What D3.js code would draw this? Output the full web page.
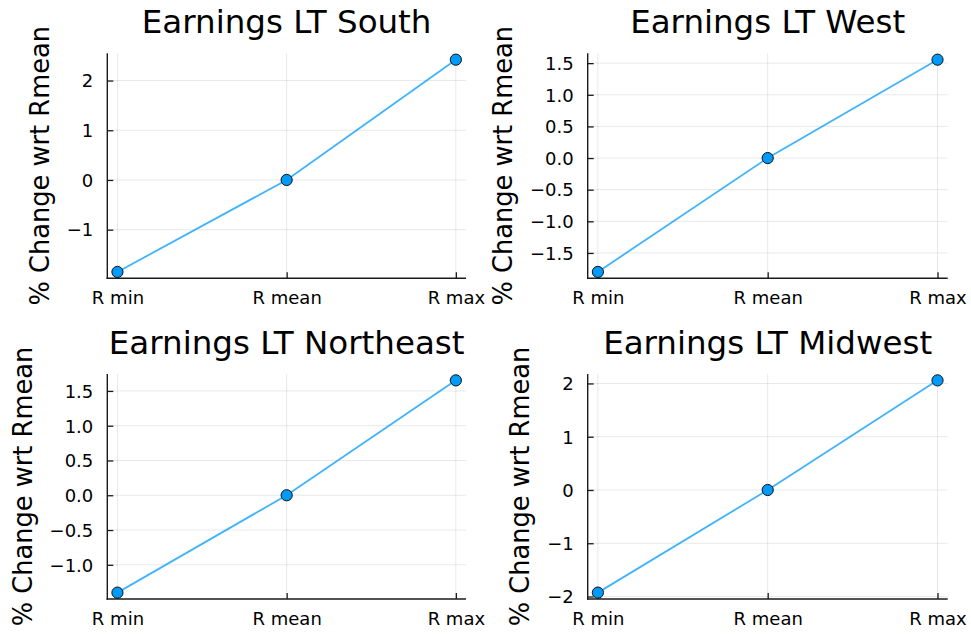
<!DOCTYPE html>
<meta charset="utf-8">
<style>
    body {
        margin: 0;
        background: #fff;
    }
    text {
        font-family: "DejaVu Sans", sans-serif;
        fill: #000;
    }
    .grid line {
        stroke: #000;
        stroke-opacity: 0.09;
        stroke-width: 1;
    }
    .axis-line {
        stroke: #1a1a1a;
        stroke-width: 1.4;
    }
</style>
<body>
<script src="https://d3js.org/d3.v7.min.js"></script>
<script>

    // categories along x
    var categories = ["R min", "R mean", "R max"];

    // panel titles (row by row)
    var titles = ["Earnings LT South", "Earnings LT West", "Earnings LT Northeast", "Earnings LT Midwest"];

    // % change wrt R mean, one array per region
    var south     = [-1.85, 0, 2.42];
    var west      = [-1.80, 0, 1.555];
    var northeast = [-1.40, 0, 1.652];
    var midwest   = [-1.927, 0, 2.058];

    // y tick values per panel
    var southTicks     = [-1, 0, 1, 2];
    var westTicks      = [-1.5, -1.0, -0.5, 0.0, 0.5, 1.0, 1.5];
    var northeastTicks = [-1.0, -0.5, 0.0, 0.5, 1.0, 1.5];
    var midwestTicks   = [-2, -1, 0, 1, 2];

    var ylabel = "% Change wrt Rmean";

    var series = [south, west, northeast, midwest];
    var yticks = [southTicks, westTicks, northeastTicks, midwestTicks];

    // plot areas of the 2x2 grid
    var frames = [
        {left: 107.3, right: 466,   top: 53.3, bottom: 278.3},
        {left: 587.7, right: 947.7, top: 53.3, bottom: 278.3},
        {left: 107.3, right: 466,   top: 374,  bottom: 599},
        {left: 587.7, right: 947.7, top: 374,  bottom: 599}
    ];

    var svg = d3.select("body").append("svg")
        .attr("width", 971).attr("height", 634);

    var lineColor = "#009afa";

    // widen a range by 3% on each side, like Plots.jl does
    function widen(lo, hi) {
        var pad = (hi - lo) * 0.03;
        return [lo - pad, hi + pad];
    }

    series.forEach(function(values, i) {
        var f = frames[i];
        var g = svg.append("g");

        var idx = values.map(function(d, j) { return j + 1; });

        var x = d3.scaleLinear()
            .domain(widen(1, categories.length))
            .range([f.left, f.right]);

        var y = d3.scaleLinear()
            .domain(widen(d3.min(values), d3.max(values)))
            .range([f.bottom, f.top]);

        var ticks = yticks[i];
        var step = ticks[1] - ticks[0];
        var fmt = d3.format("." + d3.precisionFixed(step) + "f");

        // grid
        var grid = g.append("g").attr("class", "grid");
        grid.selectAll(".gx").data(idx).enter().append("line")
            .attr("x1", function(d) { return x(d); })
            .attr("x2", function(d) { return x(d); })
            .attr("y1", f.top).attr("y2", f.bottom);
        grid.selectAll(".gy").data(ticks).enter().append("line")
            .attr("y1", function(d) { return y(d); })
            .attr("y2", function(d) { return y(d); })
            .attr("x1", f.left).attr("x2", f.right);

        // axes with inward ticks
        var xAxis = d3.axisBottom(x)
            .tickValues(idx)
            .tickFormat(function(d) { return categories[d - 1]; })
            .tickSizeInner(-6).tickSizeOuter(0).tickPadding(14);

        var yAxis = d3.axisLeft(y)
            .tickValues(ticks)
            .tickFormat(fmt)
            .tickSizeInner(-6).tickSizeOuter(0).tickPadding(14);

        var gx = g.append("g")
            .attr("transform", "translate(0," + f.bottom + ")")
            .call(xAxis);
        var gy = g.append("g")
            .attr("transform", "translate(" + f.left + ",0)")
            .call(yAxis);

        [gx, gy].forEach(function(a) {
            a.select(".domain").remove();
            a.selectAll(".tick line").attr("stroke", "#1a1a1a").attr("stroke-width", 1.3);
            a.selectAll(".tick text")
                .style("font-size", "18px")
                .style("font-family", '"DejaVu Sans", sans-serif')
                .attr("fill", "#111");
        });
        gx.selectAll(".tick text").attr("dy", null).attr("y", 26);
        gy.selectAll(".tick text").attr("x", -14).attr("dy", "0.35em");

        g.append("line").attr("class", "axis-line")
            .attr("x1", f.left).attr("x2", f.left)
            .attr("y1", f.top).attr("y2", f.bottom + 0.7);
        g.append("line").attr("class", "axis-line")
            .attr("x1", f.left - 0.7).attr("x2", f.right)
            .attr("y1", f.bottom).attr("y2", f.bottom);

        // line and markers
        var line = d3.line()
            .x(function(d, j) { return x(j + 1); })
            .y(function(d) { return y(d); });

        g.append("path")
            .datum(values)
            .attr("d", line)
            .attr("fill", "none")
            .attr("stroke", lineColor)
            .attr("stroke-opacity", 0.75)
            .attr("stroke-width", 1.8);

        g.selectAll(".pt").data(values).enter().append("circle")
            .attr("cx", function(d, j) { return x(j + 1); })
            .attr("cy", function(d) { return y(d); })
            .attr("r", 5.6)
            .attr("fill", lineColor)
            .attr("stroke", "#111")
            .attr("stroke-width", 1);

        // title
        g.append("text")
            .attr("x", (f.left + f.right) / 2)
            .attr("y", f.top - 20.5)
            .attr("text-anchor", "middle")
            .style("font-size", "32.5px")
            .text(titles[i]);

        // y label placed left of the widest tick label
        var tickLeft = d3.min(gy.selectAll(".tick text").nodes(), function(n) {
            return n.getBBox().x;
        });
        var lx = f.left + tickLeft - 18;
        g.append("text")
            .attr("transform", "translate(" + lx + "," + (f.top + f.bottom) / 2 + ") rotate(-90)")
            .attr("text-anchor", "middle")
            .style("font-size", "25.7px")
            .text(ylabel);
    });

</script>
</body>
